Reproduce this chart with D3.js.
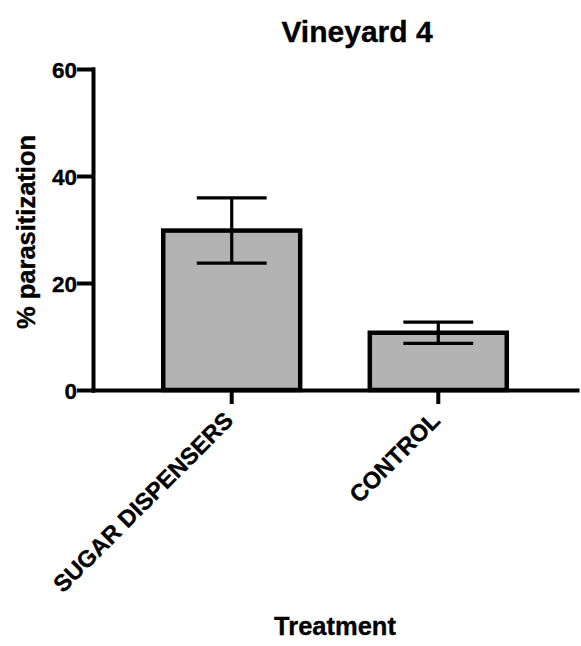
<!DOCTYPE html>
<html>
<head>
<meta charset="utf-8">
<script src="https://cdn.jsdelivr.net/npm/d3@7"></script>
<style>
  body { margin: 0; background: #fff; }
  text { font-family: "Liberation Sans", Arial, sans-serif; font-weight: bold; fill: #000; stroke: #000; stroke-width: 0.35px; }
</style>
</head>
<body>
<div id="chart"></div>
<script>
// data
var treatments = ["SUGAR DISPENSERS", "CONTROL"];
var meanValues = [29.8, 10.7];
var errValues = [6.1, 2.0];
var yTicks = [0, 20, 40, 60];

var svgWidth = 581;
var svgHeight = 646;

var margin = { top: 69, right: 4, bottom: 256, left: 93 };
var width = svgWidth - margin.left - margin.right;
var height = svgHeight - margin.top - margin.bottom;

var svg = d3.select("#chart")
  .append("svg")
  .attr("width", svgWidth)
  .attr("height", svgHeight);

var chartGroup = svg.append("g")
  .attr("transform", `translate(${margin.left}, ${margin.top})`);

var data = treatments.map(function(t, i) {
  return { name: t, mean: meanValues[i], err: errValues[i] };
});

// scales
var xScale = d3.scaleBand()
  .domain(treatments)
  .range([0, width])
  .paddingInner(0.337)
  .paddingOuter(0.34);

var yScale = d3.scaleLinear()
  .domain([0, 60])
  .range([height, 0]);

// bars
chartGroup.selectAll("rect.bar")
  .data(data)
  .enter()
  .append("rect")
  .attr("class", "bar")
  .attr("x", d => xScale(d.name))
  .attr("y", d => yScale(d.mean))
  .attr("width", xScale.bandwidth())
  .attr("height", d => height - yScale(d.mean))
  .attr("fill", "#b3b3b3")
  .attr("stroke", "#000")
  .attr("stroke-width", 4.5);

// error bars
var capHalf = xScale.bandwidth() * 0.255;
var errGroup = chartGroup.selectAll("g.err")
  .data(data)
  .enter()
  .append("g")
  .attr("class", "err")
  .attr("stroke", "#000")
  .attr("stroke-width", 3.2);

errGroup.append("line")
  .attr("x1", d => xScale(d.name) + xScale.bandwidth() / 2)
  .attr("x2", d => xScale(d.name) + xScale.bandwidth() / 2)
  .attr("y1", d => yScale(d.mean - d.err))
  .attr("y2", d => yScale(d.mean + d.err));

errGroup.append("line")
  .attr("x1", d => xScale(d.name) + xScale.bandwidth() / 2 - capHalf)
  .attr("x2", d => xScale(d.name) + xScale.bandwidth() / 2 + capHalf)
  .attr("y1", d => yScale(d.mean + d.err))
  .attr("y2", d => yScale(d.mean + d.err));

errGroup.append("line")
  .attr("x1", d => xScale(d.name) + xScale.bandwidth() / 2 - capHalf)
  .attr("x2", d => xScale(d.name) + xScale.bandwidth() / 2 + capHalf)
  .attr("y1", d => yScale(d.mean - d.err))
  .attr("y2", d => yScale(d.mean - d.err));

// axes
var leftAxis = d3.axisLeft(yScale)
  .tickValues(yTicks)
  .tickSize(14)
  .tickSizeOuter(0)
  .tickPadding(2);

var bottomAxis = d3.axisBottom(xScale)
  .tickSize(12)
  .tickSizeOuter(0)
  .tickFormat("");

var xAxisG = chartGroup.append("g")
  .attr("transform", `translate(0, ${height})`)
  .call(bottomAxis);

var yAxisG = chartGroup.append("g")
  .call(leftAxis);

[xAxisG, yAxisG].forEach(function(g) {
  g.selectAll("path.domain, line")
    .attr("stroke", "#000")
    .attr("stroke-width", 4)
    .attr("stroke-linecap", "square");
});

yAxisG.selectAll("text")
  .attr("font-size", "22.5px")
  .attr("dy", "0.36em");

// rotated category labels
chartGroup.append("g").selectAll("text")
  .data(treatments)
  .enter()
  .append("text")
  .attr("transform", d => `translate(${xScale(d) + xScale.bandwidth() / 2 + 3}, ${height + 32}) rotate(-45)`)
  .attr("text-anchor", "end")
  .attr("font-size", "23.5px")
  .text(d => d);

// titles
svg.append("text")
  .attr("x", 357)
  .attr("y", 42)
  .attr("text-anchor", "middle")
  .attr("font-size", "30px")
  .text("Vineyard 4");

svg.append("text")
  .attr("transform", "translate(35, 232) rotate(-90)")
  .attr("text-anchor", "middle")
  .attr("font-size", "25.5px")
  .text("% parasitization");

svg.append("text")
  .attr("x", margin.left + width / 2)
  .attr("y", 635)
  .attr("text-anchor", "middle")
  .attr("font-size", "25.5px")
  .text("Treatment");
</script>
</body>
</html>
